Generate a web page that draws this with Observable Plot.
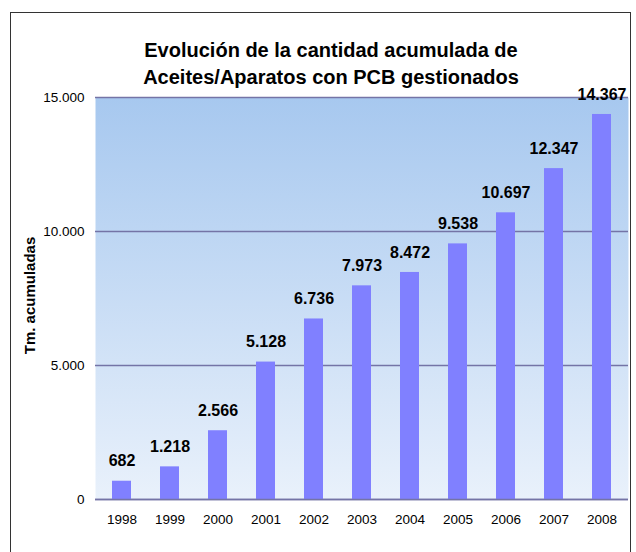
<!DOCTYPE html>
<html>
<head>
<meta charset="utf-8">
<script src="https://cdn.jsdelivr.net/npm/d3@7"></script>
<script src="https://cdn.jsdelivr.net/npm/@observablehq/plot@0.6"></script>
<style>
  html, body { margin: 0; padding: 0; background: #fff; }
  #chart { position: relative; width: 636px; height: 552px; overflow: hidden; }
</style>
</head>
<body>
<div id="chart"></div>
<script>
const years = ["1998","1999","2000","2001","2002","2003","2004","2005","2006","2007","2008"];
const values = [682, 1218, 2566, 5128, 6736, 7973, 8472, 9538, 10697, 12347, 14367];
const yTicks = [0, 5000, 10000, 15000];
const titleText = "Evolución de la cantidad acumulada de\nAceites/Aparatos con PCB gestionados";
const yLabel = "Tm. acumuladas";

const data = years.map((y, i) => ({year: y, value: values[i]}));
const fmt = d3.formatLocale({decimal: ",", thousands: ".", grouping: [3], currency: ["", ""]}).format(",d");
const FONT = "'Liberation Sans', Arial, sans-serif";

const plot = Plot.plot({
  width: 636,
  height: 552,
  marginTop: 97,
  marginBottom: 53,
  marginLeft: 95,
  marginRight: 8,
  style: {fontFamily: FONT, fontSize: "13px", color: "#000", background: "transparent"},
  x: {domain: years, paddingInner: 0.6, paddingOuter: 0.3, label: null},
  y: {domain: [0, 15000], label: null},
  marks: [
    Plot.frame({fill: "url(#bgGrad)", stroke: null}),
    Plot.ruleY(yTicks, {stroke: "#7474a6", strokeWidth: 1.3}),
    Plot.barY(data, {x: "year", y: "value", fill: "#8080ff"}),
    Plot.ruleY([0], {stroke: "#7474a6", strokeWidth: 1.5}),
    Plot.axisY(yTicks, {tickSize: 0, tickPadding: 11, tickFormat: fmt, fontSize: 13.5, label: null}),
    Plot.axisX({tickSize: 0, tickPadding: 15, fontSize: 13.5, label: null}),
    Plot.text(data, {x: "year", y: "value", text: d => fmt(d.value), dy: -20,
      fontSize: 16, fontWeight: "bold", fill: "#000"}),
    Plot.text([titleText], {frameAnchor: "top", dx: -31, dy: -14, lineHeight: 1.35,
      lineAnchor: "bottom", fontSize: 20, fontWeight: "bold", fill: "#000"}),
    Plot.text([yLabel], {frameAnchor: "left", textAnchor: "middle", dx: -65, dy: -3, rotate: -90,
      fontSize: 15, fontWeight: "bold", fill: "#000"})
  ]
});

const svg = d3.select(plot);
const defs = svg.insert("defs", ":first-child");
const grad = defs.append("linearGradient")
  .attr("id", "bgGrad").attr("x1", 0).attr("y1", 0).attr("x2", 0).attr("y2", 1);
grad.append("stop").attr("offset", "0%").attr("stop-color", "#a7c8ef");
grad.append("stop").attr("offset", "100%").attr("stop-color", "#e9f1fb");

svg.append("rect")
  .attr("x", 10.5).attr("y", 12.5).attr("width", 620).attr("height", 600)
  .attr("fill", "none").attr("stroke", "#333").attr("stroke-width", 1);

document.getElementById("chart").appendChild(plot);
</script>
</body>
</html>
